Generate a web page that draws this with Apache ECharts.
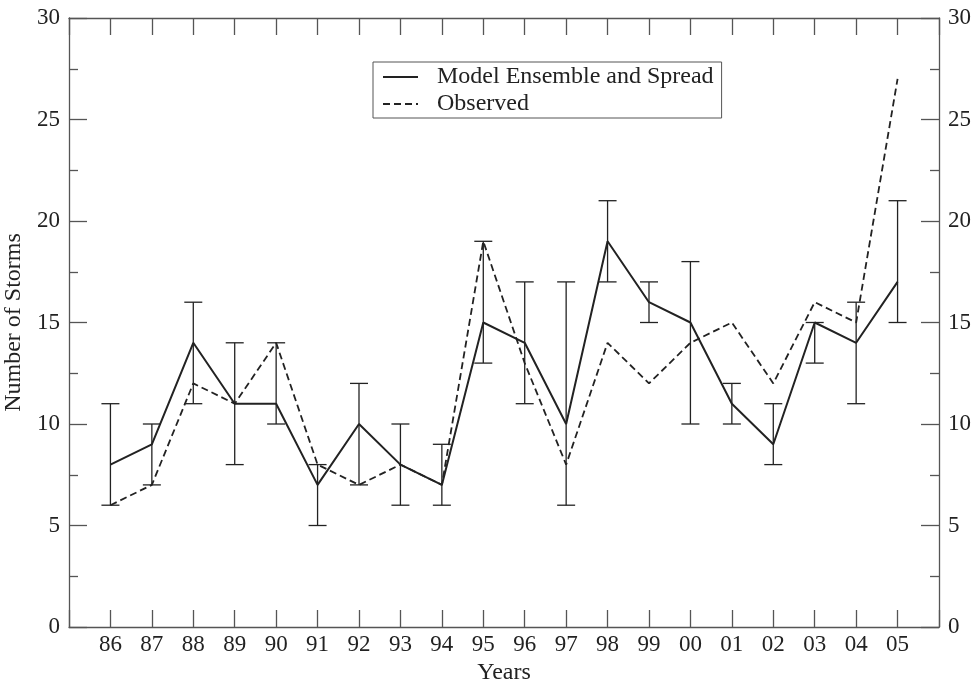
<!DOCTYPE html>
<html>
<head>
<meta charset="utf-8">
<script src="https://cdn.jsdelivr.net/npm/echarts@6/dist/echarts.min.js"></script>
<style>
  html, body { margin: 0; padding: 0; background: #fff; }
  #main { width: 977px; height: 681px; }
</style>
</head>
<body>
<div id="main"></div>
<script>
// storms per year, 1986-2005
var years = ['86','87','88','89','90','91','92','93','94','95','96','97','98','99','00','01','02','03','04','05'];
var model = [8, 9, 14, 11, 11, 7, 10, 8, 7, 15, 14, 10, 19, 16, 15, 11, 9, 15, 14, 17];
var observed = [6, 7, 12, 11, 14, 8, 7, 8, 7, 19, 13, 8, 14, 12, 14, 15, 12, 16, 15, 27];
var spreadLow = [6, 7, 11, 8, 10, 5, 7, 6, 6, 13, 11, 6, 17, 15, 10, 10, 8, 13, 11, 15];
var spreadHigh = [11, 10, 16, 14, 14, 8, 12, 10, 9, 19, 17, 17, 21, 17, 18, 12, 11, 15, 16, 21];

var font = 'Liberation Serif';
var ink = '#222';
var axisInk = '#555';

var modelData = [], obsData = [], barData = [];
for (var i = 0; i < years.length; i++) {
    modelData.push([i, model[i]]);
    obsData.push([i, observed[i]]);
    barData.push([i, spreadLow[i], spreadHigh[i]]);
}

function xLabel(v) {
    var i = Math.round(v);
    return (i >= 0 && i < years.length) ? years[i] : '';
}

var axisLineStyle = { color: axisInk, width: 1.3 };

var option = {
    backgroundColor: '#fff',
    animation: false,
    textStyle: { fontFamily: font, color: ink },
    grid: { left: 69, right: 38, top: 18, bottom: 54, containLabel: false, outerBoundsMode: 'none' },
    legend: {
        left: 373, top: 62,
        orient: 'vertical',
        backgroundColor: '#fff',
        borderColor: axisInk, borderWidth: 1,
        padding: [3, 8, 2, 9],
        itemWidth: 35, itemHeight: 14, itemGap: 3,
        itemStyle: { opacity: 0 },
        textStyle: { fontFamily: font, fontSize: 24, color: ink, padding: [0, 0, 0, 14] },
        data: ['Model Ensemble and Spread', 'Observed']
    },
    xAxis: [
        {
            type: 'value', min: -1, max: 20, interval: 1,
            name: 'Years', nameLocation: 'middle', nameGap: 31,
            nameTextStyle: { fontFamily: font, fontSize: 24, color: ink },
            axisLine: { show: true, onZero: false, lineStyle: axisLineStyle },
            axisTick: { inside: true, length: 17, lineStyle: axisLineStyle },
            axisLabel: { formatter: xLabel, fontFamily: font, fontSize: 23, color: ink, margin: 6 },
            splitLine: { show: false }
        },
        {
            type: 'value', min: -1, max: 20, interval: 1, position: 'top',
            axisLine: { show: true, onZero: false, lineStyle: axisLineStyle },
            axisTick: { inside: true, length: 17, lineStyle: axisLineStyle },
            axisLabel: { show: false },
            splitLine: { show: false }
        }
    ],
    yAxis: [
        {
            type: 'value', min: 0, max: 30, interval: 5,
            name: 'Number of Storms', nameLocation: 'middle', nameGap: 42, nameRotate: 90,
            nameTextStyle: { fontFamily: font, fontSize: 24, color: ink },
            axisLine: { show: true, onZero: false, lineStyle: axisLineStyle },
            axisTick: { inside: true, length: 18, lineStyle: axisLineStyle },
            minorTick: { show: true, splitNumber: 2, length: 9, lineStyle: axisLineStyle },
            axisLabel: { fontFamily: font, fontSize: 23, color: ink, margin: 9 },
            splitLine: { show: false }
        },
        {
            type: 'value', min: 0, max: 30, interval: 5, position: 'right',
            axisLine: { show: true, onZero: false, lineStyle: axisLineStyle },
            axisTick: { inside: true, length: 18, lineStyle: axisLineStyle },
            minorTick: { show: true, splitNumber: 2, length: 9, lineStyle: axisLineStyle },
            axisLabel: { fontFamily: font, fontSize: 23, color: ink, margin: 9 },
            splitLine: { show: false }
        }
    ],
    series: [
        {
            name: 'Model Ensemble and Spread',
            type: 'line',
            data: modelData,
            symbol: 'none',
            lineStyle: { color: ink, width: 2 },
            itemStyle: { color: ink },
            z: 3
        },
        {
            name: 'Observed',
            type: 'line',
            data: obsData,
            symbol: 'none',
            lineStyle: { color: ink, width: 1.8, type: [7, 4] },
            itemStyle: { color: ink },
            z: 3
        },
        {
            name: 'spread',
            type: 'custom',
            data: barData,
            renderItem: function (params, api) {
                var lo = api.coord([api.value(0), api.value(1)]);
                var hi = api.coord([api.value(0), api.value(2)]);
                var w = 9;
                var st = { stroke: ink, lineWidth: 1.3, fill: null };
                return {
                    type: 'group',
                    children: [
                        { type: 'line', shape: { x1: lo[0], y1: lo[1], x2: hi[0], y2: hi[1] }, style: st },
                        { type: 'line', shape: { x1: lo[0] - w, y1: lo[1], x2: lo[0] + w, y2: lo[1] }, style: st },
                        { type: 'line', shape: { x1: hi[0] - w, y1: hi[1], x2: hi[0] + w, y2: hi[1] }, style: st }
                    ]
                };
            },
            z: 2
        }
    ]
};

var myChart = echarts.init(document.getElementById('main'), null, { renderer: 'canvas' });
myChart.setOption(option);
</script>
</body>
</html>
